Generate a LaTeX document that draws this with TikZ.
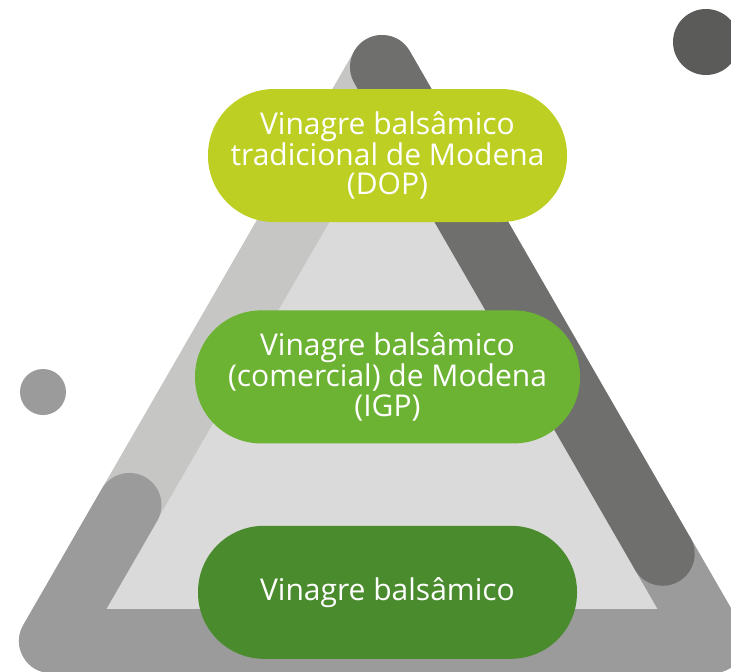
\documentclass[tikz,border=0pt]{standalone}
\usepackage{fontspec}
\setmainfont{Open Sans}
\usetikzlibrary{positioning,calc}

\definecolor{bandlight}{HTML}{C6C6C5}
\definecolor{bandinner}{HTML}{DADADA}
\definecolor{bandmid}{HTML}{9B9B9B}
\definecolor{banddark}{HTML}{6F6F6E}
\definecolor{dotdark}{HTML}{5B5B5A}
\definecolor{limegreen}{HTML}{BDCF23}
\definecolor{midgreen}{HTML}{6DB333}
\definecolor{deepgreen}{HTML}{4A8B2D}

\tikzset{
  pill/.style={rectangle, rounded corners=66pt, minimum height=133pt,
    inner sep=0pt, text=white, align=center,
    font=\fontsize{30}{29.5}\selectfont},
  band/.style={line width=64pt, line cap=round, line join=round}
}

\begin{document}
\begin{tikzpicture}[x=1pt, y=-1pt]
      \useasboundingbox (0,0) rectangle (731,672);
      \clip (0,0) rectangle (731,672);

      % stroke middle line of the triangle
      \coordinate (top) at (382,67);
      \coordinate (bl) at (51,641);
      \coordinate (br) at (713,641);
      \coordinate (lend) at ($(top)!0.763!(bl)$);
      \coordinate (rend) at ($(br)!0.152!(top)$);

      \filldraw[band, draw=bandlight, fill=bandlight] (top)--(bl)--(br)--cycle;
      \fill[bandinner] (382,131)--(106,609)--(658,609)--cycle;

      \draw[band, bandmid] (lend)--(bl)--(br)--(rend);
      \draw[band, banddark] (top)--(rend);

      \fill[dotdark] (706,42) circle (33);
      \fill[bandmid] (43,392) circle (23);

      \node[pill, fill=limegreen, minimum width=359pt] (dop) at (387.5,155.5)
        {Vinagre balsâmico\\tradicional de Modena\\(DOP)};
      \node[pill, fill=midgreen, minimum width=385pt, below=88pt of dop] (igp)
        {Vinagre balsâmico\\(comercial) de Modena\\(IGP)};
      \node[pill, fill=deepgreen, minimum width=379pt, below=82pt of igp] (base)
        {Vinagre balsâmico};
\end{tikzpicture}
\end{document}
